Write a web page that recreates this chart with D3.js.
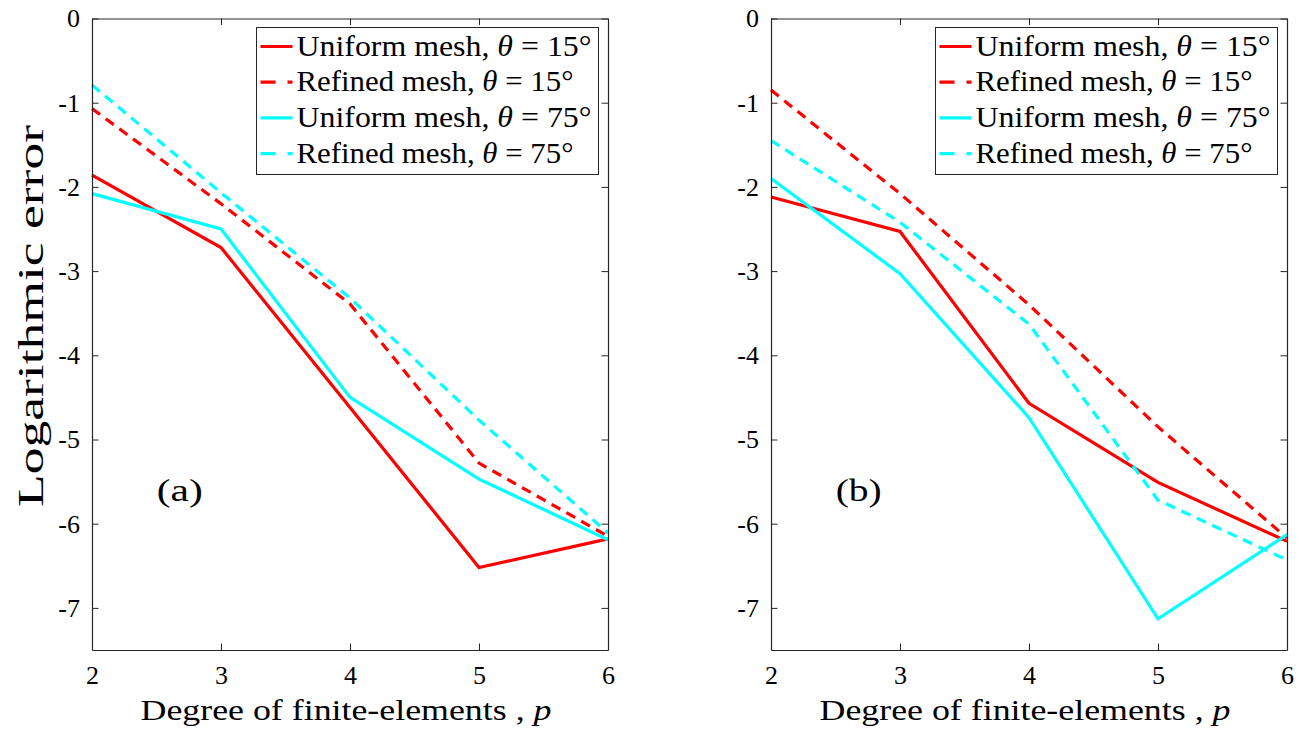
<!DOCTYPE html>
<html>
<head>
<meta charset="utf-8">
<script src="https://cdn.jsdelivr.net/npm/d3@7"></script>
<style>
  html, body { margin: 0; padding: 0; background: #fff; }
  svg { display: block; }
  text { font-family: "Liberation Serif", "DejaVu Serif", serif; fill: #000; }
</style>
</head>
<body>
<svg id="chart" width="1308" height="733"></svg>
<script>
// Polynomial degree p of the finite elements
const degrees = [2, 3, 4, 5, 6];

// Logarithmic error, panel (a)
const a_uniform15 = [-1.86, -2.72, -4.62, -6.52, -6.18];
const a_refined15 = [-1.07, -2.20, -3.39, -5.28, -6.15];
const a_uniform75 = [-2.08, -2.50, -4.50, -5.47, -6.19];
const a_refined75 = [-0.79, -2.07, -3.32, -4.77, -6.11];

// Logarithmic error, panel (b)
const b_uniform15 = [-2.12, -2.53, -4.57, -5.51, -6.21];
const b_refined15 = [-0.85, -2.08, -3.40, -4.85, -6.17];
const b_uniform75 = [-1.90, -3.03, -4.74, -7.13, -6.13];
const b_refined75 = [-1.45, -2.42, -3.63, -5.72, -6.43];

const xTicks = [2, 3, 4, 5, 6];
const yTicks = [0, -1, -2, -3, -4, -5, -6, -7];
const seriesNames = ["Uniform mesh", "Refined mesh", "Uniform mesh", "Refined mesh"];
const seriesAngles = ["15", "15", "75", "75"];

const panels = [
  { tag: "(a)", left: 92, series: [a_uniform15, a_refined15, a_uniform75, a_refined75], yLabel: true },
  { tag: "(b)", left: 771, series: [b_uniform15, b_refined15, b_uniform75, b_refined75], yLabel: false }
];

const styles = [
  { color: "#ff0000", dash: null },
  { color: "#ff0000", dash: "10,7" },
  { color: "#00ffff", dash: null },
  { color: "#00ffff", dash: "10,7" }
];

const plotW = 516, plotTop = 18.5, plotBottom = 650;
const axisColor = "#262626";
const svg = d3.select("#chart");

panels.forEach(p => {
  const x = d3.scaleLinear().domain([2, 6]).range([p.left, p.left + plotW]);
  const y = d3.scaleLinear().domain([-7.5, 0]).range([plotBottom, plotTop]);
  const g = svg.append("g");

  // data lines
  const line = d3.line().x((d, i) => x(degrees[i])).y(d => y(d));
  p.series.forEach((s, k) => {
    g.append("path")
      .datum(s)
      .attr("d", line)
      .attr("fill", "none")
      .attr("stroke", styles[k].color)
      .attr("stroke-width", 3.2)
      .attr("stroke-dasharray", styles[k].dash)
      .attr("stroke-linejoin", "miter");
  });

  // axes with inward ticks on all four sides
  const tk = 6.5;
  const fmt = d => d3.format("d")(d).replace("−", "-");
  const bottomAxis = d3.axisBottom(x).tickValues(xTicks).tickSizeInner(-tk).tickSizeOuter(0).tickPadding(16).tickFormat(fmt);
  const topAxis = d3.axisTop(x).tickValues(xTicks).tickSizeInner(-tk).tickSizeOuter(0).tickFormat("");
  const leftAxis = d3.axisLeft(y).tickValues(yTicks).tickSizeInner(-tk).tickSizeOuter(0).tickPadding(12).tickFormat(fmt);
  const rightAxis = d3.axisRight(y).tickValues(yTicks).tickSizeInner(-tk).tickSizeOuter(0).tickFormat("");

  const styleAxis = sel => {
    sel.attr("font-family", null);
    sel.selectAll("path.domain").attr("stroke", axisColor).attr("stroke-width", 1.2);
    sel.selectAll(".tick line").attr("stroke", axisColor).attr("stroke-width", 1);
    sel.selectAll(".tick text").style("font-family", "'Liberation Serif', serif").attr("font-size", 26).attr("fill", "#000");
  };
  g.append("g").attr("transform", `translate(0,${plotBottom})`).call(bottomAxis).call(styleAxis);
  g.append("g").attr("transform", `translate(0,${plotTop})`).call(topAxis).call(styleAxis);
  g.append("g").attr("transform", `translate(${p.left},0)`).call(leftAxis).call(styleAxis);
  g.append("g").attr("transform", `translate(${p.left + plotW},0)`).call(rightAxis).call(styleAxis);

  // panel tag
  g.append("text")
    .attr("x", x(2.68)).attr("y", y(-5.73))
    .attr("text-anchor", "middle")
    .attr("font-size", 32)
    .attr("textLength", 46)
    .attr("lengthAdjust", "spacingAndGlyphs")
    .text(p.tag);

  // x-axis title
  const xt = g.append("text")
    .attr("x", p.left + plotW / 2 - 4).attr("y", 720)
    .attr("text-anchor", "middle")
    .attr("font-size", 30)
    .attr("textLength", 411)
    .attr("lengthAdjust", "spacingAndGlyphs");
  xt.append("tspan").text("Degree of finite-elements , ");
  xt.append("tspan").attr("font-style", "italic").text("p");

  if (p.yLabel) {
    g.append("text")
      .attr("transform", `translate(43,316) rotate(-90)`)
      .attr("text-anchor", "middle")
      .attr("font-size", 35)
      .attr("textLength", 382)
      .attr("lengthAdjust", "spacingAndGlyphs")
      .text("Logarithmic error");
  }

  // legend
  const lx = p.left + 164.5, ly = 27.5, lw = 342, lh = 147;
  const lg = g.append("g");
  lg.append("rect")
    .attr("x", lx).attr("y", ly).attr("width", lw).attr("height", lh)
    .attr("fill", "#fff").attr("stroke", axisColor).attr("stroke-width", 1);
  const textWidths = [295, 277, 295, 277];
  seriesNames.forEach((name, k) => {
    const cy = ly + 19 + k * 35.7;
    lg.append("line")
      .attr("x1", lx + 4).attr("x2", lx + 36).attr("y1", cy).attr("y2", cy)
      .attr("stroke", styles[k].color).attr("stroke-width", 3.2)
      .attr("stroke-dasharray", styles[k].dash ? "15,12" : null);
    const t = lg.append("text")
      .attr("x", lx + 40).attr("y", cy + 9)
      .attr("font-size", 29)
      .attr("textLength", textWidths[k])
      .attr("lengthAdjust", "spacingAndGlyphs");
    t.append("tspan").text(name + ", ");
    t.append("tspan").attr("font-style", "italic").text("θ");
    t.append("tspan").text(" = " + seriesAngles[k] + "°");
  });
});
</script>
</body>
</html>
